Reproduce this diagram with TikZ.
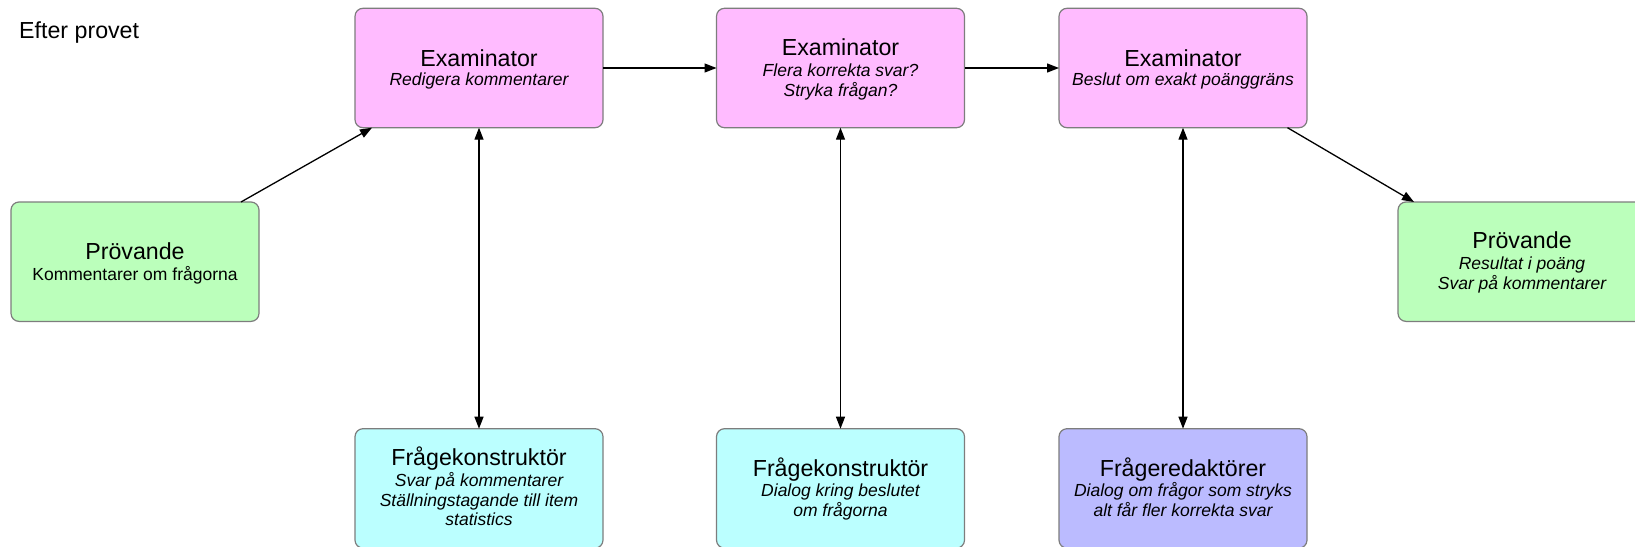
\documentclass[tikz,border=0pt]{standalone}
\usepackage{fontspec}
\setmainfont{Liberation Sans}
\usetikzlibrary{arrows.meta,calc}
\definecolor{exfill}{RGB}{255,187,255}
\definecolor{pfill}{RGB}{187,255,187}
\definecolor{kfill}{RGB}{187,255,255}
\definecolor{rfill}{RGB}{187,187,255}
\definecolor{boxgray}{RGB}{125,125,125}
\newcommand{\stackl}[1]{\vtop{\halign{\hfil##\hfil\cr#1\crcr}}}
\tikzset{
  box/.style={draw=boxgray, line width=1.2pt, rounded corners=8pt,
    minimum width=248pt, minimum height=119.4pt, inner sep=0pt, outer sep=0pt,
    anchor=north west},
  exbox/.style={box, fill=exfill},
  pbox/.style={box, fill=pfill},
  kbox/.style={box, fill=kfill},
  rbox/.style={box, fill=rfill},
  titletext/.style={font=\fontsize{23.2}{26}\selectfont, anchor=base, inner sep=0pt},
  subtext/.style={font=\fontsize{17.5}{19.7}\selectfont\itshape, anchor=base, inner sep=0pt},
  subup/.style={font=\fontsize{17.5}{19.7}\selectfont, anchor=base, inner sep=0pt},
  conn/.style={line width=1.3pt, -{Triangle[length=12pt,width=9pt]}},
  biconn/.style={line width=1.3pt, {Triangle[length=12pt,width=9pt]}-{Triangle[length=12pt,width=9pt]}},
}
\begin{document}
\begin{tikzpicture}[x=1pt,y=-1pt]
\useasboundingbox (0,0) rectangle (1635,546);
\clip (0,0) rectangle (1635,546);

% heading
\node[anchor=base west, font=\fontsize{23.2}{26}\selectfont, inner sep=0pt] (head) at (19,38) {Efter provet};

% boxes
\node[exbox] (ex1) at (355,8.3) {};
\node[exbox] (ex2) at (716.5,8.3) {};
\node[exbox] (ex3) at (1059,8.3) {};
\node[pbox] (pl) at (11,202) {};
\node[pbox] (pr) at (1398,202) {};
\node[kbox] (fk1) at (355,428.7) {};
\node[kbox] (fk2) at (716.5,428.7) {};
\node[rbox] (fr) at (1059,428.7) {};

% texts
\node[titletext] (ex1t) at (479,66) {Examinator};
\node[subtext] (ex1s) at (479,85.5) {\stackl{Redigera kommentarer}};
\node[titletext] (ex2t) at (840.5,55.5) {Examinator};
\node[subtext] (ex2s) at (840.5,76.5) {\stackl{Flera korrekta svar?\cr Stryka frågan?}};
\node[titletext] (ex3t) at (1183,66) {Examinator};
\node[subtext] (ex3s) at (1183,85.5) {\stackl{Beslut om exakt poänggräns}};
\node[titletext] (plt) at (135,259) {Prövande};
\node[subup] (pls) at (135,280.5) {\stackl{Kommentarer om frågorna}};
\node[titletext] (prt) at (1522,248.5) {Prövande};
\node[subtext] (prs) at (1522,269.5) {\stackl{Resultat i poäng\cr Svar på kommentarer}};
\node[titletext] (fk1t) at (479,465.5) {Frågekonstruktör};
\node[subtext] (fk1s) at (479,486.5) {\stackl{Svar på kommentarer\cr Ställningstagande till item\cr statistics}};
\node[titletext] (fk2t) at (840.5,476) {Frågekonstruktör};
\node[subtext] (fk2s) at (840.5,496.5) {\stackl{Dialog kring beslutet\cr om frågorna}};
\node[titletext] (frt) at (1183,476) {Frågeredaktörer};
\node[subtext] (frs) at (1183,496.5) {\stackl{Dialog om frågor som stryks\cr alt får fler korrekta svar}};

% connectors
\draw[conn] ($(pl.north east)+(-18,0)$) -- ($(ex1.south west)+(17,0)$);
\draw[conn] (ex1.east) -- (ex2.west);
\draw[conn] (ex2.east) -- (ex3.west);
\draw[conn] ($(ex3.south east)+(-19.5,0)$) -- ($(pr.north west)+(16,0)$);
\draw[biconn] (ex1.south) -- (fk1.north);
\draw[biconn] (ex2.south) -- (fk2.north);
\draw[biconn] (ex3.south) -- (fr.north);
\end{tikzpicture}
\end{document}
